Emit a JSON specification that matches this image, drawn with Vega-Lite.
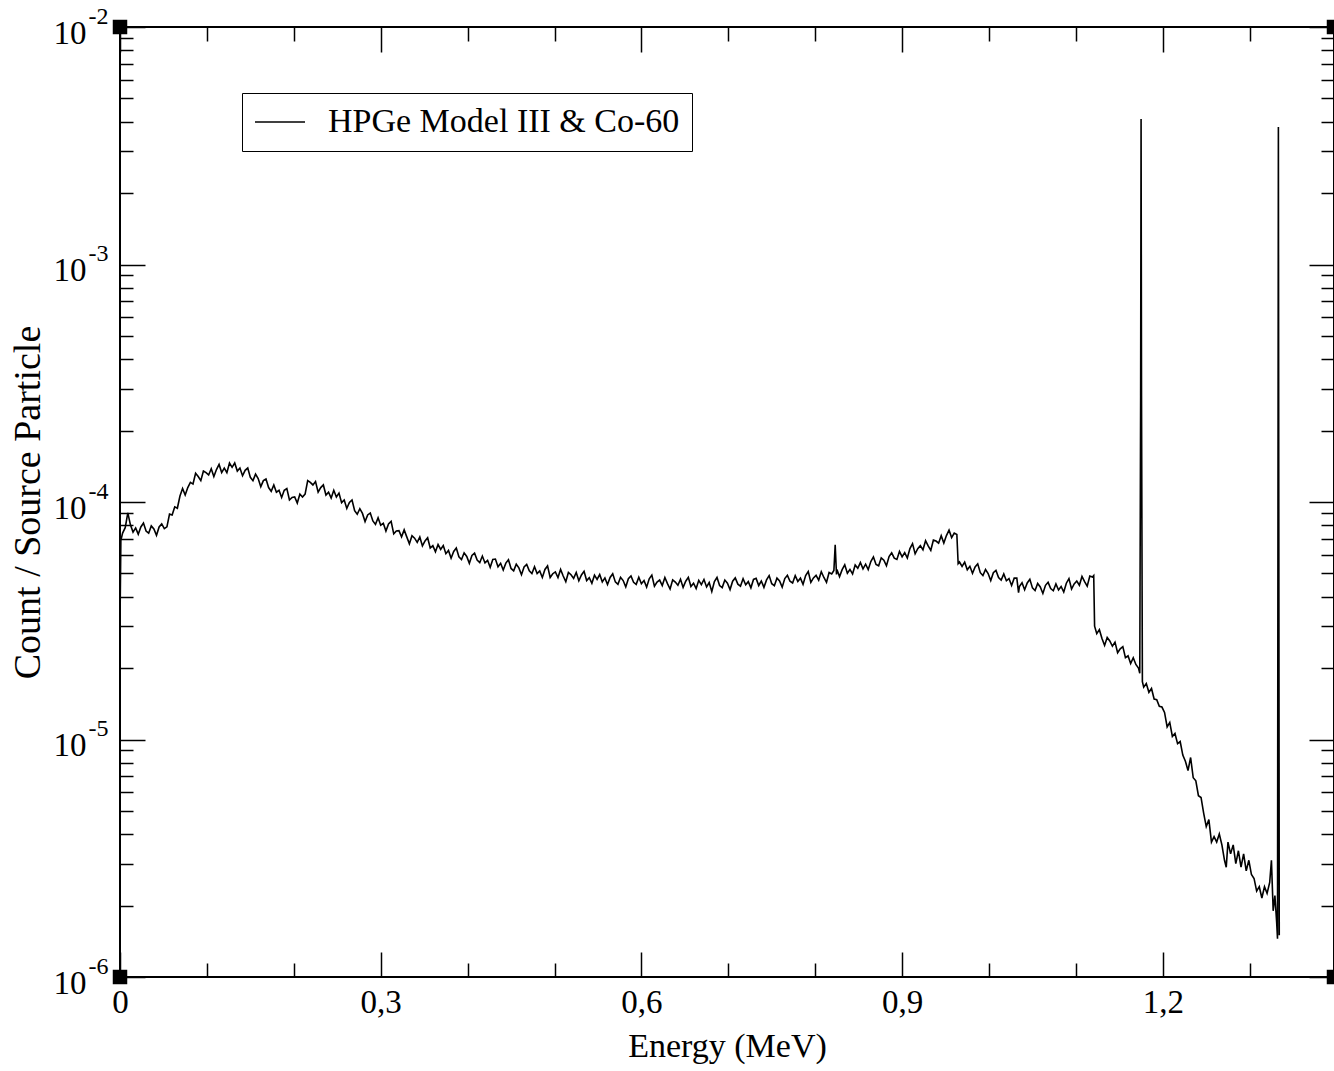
{
"$schema": "https://vega.github.io/schema/vega-lite/v6.json",
"width": 1214, "height": 950,
"autosize": {"type": "none"},
"padding": {"left": 120, "top": 27, "right": 0, "bottom": 94},
"background": "white",
"config": {
  "view": {"stroke": "#000", "strokeWidth": 2},
  "font": "Liberation Serif",
  "axis": {"grid": false, "domain": false, "labelColor": "#000", "titleColor": "#000", "tickColor": "#000", "labelFont": "Liberation Serif", "titleFont": "Liberation Serif", "titleFontWeight": "normal", "labelOverlap": false, "labelFlush": false, "labelBound": false}
},
"datasets": {
  "corners": [{"energy":0,"count":1e-2},{"energy":0,"count":1e-6},{"energy":1.397,"count":1e-2},{"energy":1.397,"count":1e-6}],
  "spec": [
{"energy":0,"count":3.1e-5},{"energy":0.001,"count":6.9e-5},{"energy":0.003,"count":7.4e-5},{"energy":0.006,"count":7.8e-5},{"energy":0.009,"count":9.0e-5},
{"energy":0.012,"count":8.01e-5},{"energy":0.015,"count":7.47e-5},{"energy":0.018,"count":7.78e-5},{"energy":0.021,"count":7.32e-5},{"energy":0.024,"count":7.85e-5},{"energy":0.027,"count":8.16e-5},{"energy":0.030,"count":7.55e-5},{"energy":0.033,"count":7.39e-5},{"energy":0.036,"count":7.93e-5},{"energy":0.039,"count":7.7e-5},{"energy":0.042,"count":7.24e-5},{"energy":0.045,"count":7.85e-5},{"energy":0.048,"count":8.09e-5},
{"energy":0.051,"count":7.72e-5},{"energy":0.054,"count":7.86e-5},{"energy":0.057,"count":8.89e-5},{"energy":0.060,"count":8.82e-5},{"energy":0.063,"count":9.54e-5},{"energy":0.066,"count":9.41e-5},{"energy":0.069,"count":1.06e-4},{"energy":0.072,"count":1.14e-4},{"energy":0.075,"count":1.07e-4},{"energy":0.078,"count":1.15e-4},{"energy":0.081,"count":1.21e-4},{"energy":0.084,"count":1.19e-4},{"energy":0.087,"count":1.32e-4},{"energy":0.090,"count":1.28e-4},{"energy":0.093,"count":1.23e-4},{"energy":0.096,"count":1.35e-4},{"energy":0.099,"count":1.33e-4},{"energy":0.102,"count":1.30e-4},{"energy":0.105,"count":1.38e-4},{"energy":0.108,"count":1.28e-4},{"energy":0.111,"count":1.37e-4},{"energy":0.114,"count":1.44e-4},{"energy":0.117,"count":1.33e-4},{"energy":0.120,"count":1.39e-4},{"energy":0.123,"count":1.33e-4},{"energy":0.126,"count":1.46e-4},{"energy":0.129,"count":1.40e-4},
{"energy":0.132,"count":1.46e-4},{"energy":0.135,"count":1.35e-4},{"energy":0.138,"count":1.39e-4},{"energy":0.141,"count":1.29e-4},{"energy":0.144,"count":1.36e-4},{"energy":0.147,"count":1.39e-4},{"energy":0.150,"count":1.27e-4},{"energy":0.153,"count":1.23e-4},{"energy":0.156,"count":1.31e-4},{"energy":0.159,"count":1.255e-4},{"energy":0.162,"count":1.16e-4},{"energy":0.165,"count":1.23e-4},{"energy":0.168,"count":1.25e-4},{"energy":0.171,"count":1.15e-4},{"energy":0.174,"count":1.11e-4},{"energy":0.177,"count":1.18e-4},{"energy":0.180,"count":1.10e-4},{"energy":0.183,"count":1.12e-4},{"energy":0.186,"count":1.045e-4},{"energy":0.189,"count":1.12e-4},{"energy":0.192,"count":1.14e-4},{"energy":0.195,"count":1.02e-4},{"energy":0.198,"count":1.045e-4},{"energy":0.201,"count":1.05e-4},{"energy":0.204,"count":9.9e-5},{"energy":0.207,"count":1.08e-4},{"energy":0.210,"count":1.05e-4},{"energy":0.213,"count":1.08e-4},{"energy":0.216,"count":1.23e-4},{"energy":0.219,"count":1.21e-4},{"energy":0.222,"count":1.18e-4},{"energy":0.225,"count":1.22e-4},{"energy":0.228,"count":1.10e-4},{"energy":0.231,"count":1.15e-4},{"energy":0.234,"count":1.18e-4},{"energy":0.237,"count":1.07e-4},{"energy":0.240,"count":1.10e-4},{"energy":0.243,"count":1.04e-4},{"energy":0.246,"count":1.12e-4},{"energy":0.249,"count":1.05e-4},
{"energy":0.252,"count":1.09e-4},{"energy":0.255,"count":9.94e-5},{"energy":0.258,"count":1.02e-4},{"energy":0.261,"count":9.4e-5},{"energy":0.264,"count":9.95e-5},{"energy":0.267,"count":1.02e-4},{"energy":0.270,"count":9.2e-5},{"energy":0.273,"count":8.88e-5},{"energy":0.276,"count":9.37e-5},{"energy":0.279,"count":8.95e-5},{"energy":0.282,"count":8.27e-5},{"energy":0.285,"count":8.82e-5},{"energy":0.288,"count":8.98e-5},{"energy":0.291,"count":8.32e-5},{"energy":0.294,"count":8.05e-5},{"energy":0.297,"count":8.58e-5},{"energy":0.300,"count":7.99e-5},{"energy":0.303,"count":8.13e-5},{"energy":0.306,"count":7.55e-5},{"energy":0.309,"count":8.09e-5},{"energy":0.312,"count":8.29e-5},{"energy":0.315,"count":7.34e-5},{"energy":0.318,"count":7.55e-5},{"energy":0.321,"count":7.57e-5},{"energy":0.324,"count":7.13e-5},{"energy":0.327,"count":7.63e-5},{"energy":0.330,"count":7.13e-5},{"energy":0.333,"count":6.67e-5},{"energy":0.336,"count":7.21e-5},{"energy":0.339,"count":7.04e-5},{"energy":0.342,"count":6.76e-5},{"energy":0.345,"count":7.12e-5},{"energy":0.348,"count":6.53e-5},{"energy":0.351,"count":6.86e-5},{"energy":0.354,"count":7.07e-5},{"energy":0.357,"count":6.4e-5},{"energy":0.360,"count":6.55e-5},{"energy":0.363,"count":6.17e-5},{"energy":0.366,"count":6.62e-5},{"energy":0.369,"count":6.31e-5},
{"energy":0.372,"count":6.56e-5},{"energy":0.375,"count":6.06e-5},{"energy":0.378,"count":6.25e-5},{"energy":0.381,"count":5.8e-5},{"energy":0.384,"count":6.19e-5},{"energy":0.387,"count":6.4e-5},{"energy":0.390,"count":5.88e-5},{"energy":0.393,"count":5.72e-5},{"energy":0.396,"count":6.11e-5},{"energy":0.399,"count":5.9e-5},{"energy":0.402,"count":5.52e-5},{"energy":0.405,"count":5.96e-5},{"energy":0.408,"count":6.09e-5},{"energy":0.411,"count":5.7e-5},{"energy":0.414,"count":5.56e-5},{"energy":0.417,"count":5.92e-5},{"energy":0.420,"count":5.54e-5},{"energy":0.423,"count":5.68e-5},{"energy":0.426,"count":5.31e-5},{"energy":0.429,"count":5.73e-5},{"energy":0.432,"count":5.75e-5},{"energy":0.435,"count":5.34e-5},{"energy":0.438,"count":5.52e-5},{"energy":0.441,"count":5.17e-5},{"energy":0.444,"count":5.53e-5},{"energy":0.447,"count":5.71e-5},{"energy":0.450,"count":5.25e-5},{"energy":0.453,"count":5.13e-5},{"energy":0.456,"count":5.47e-5},{"energy":0.459,"count":5.28e-5},{"energy":0.462,"count":4.94e-5},{"energy":0.465,"count":5.33e-5},{"energy":0.468,"count":5.46e-5},{"energy":0.471,"count":5.13e-5},{"energy":0.474,"count":5.0e-5},{"energy":0.477,"count":5.34e-5},{"energy":0.480,"count":5.0e-5},{"energy":0.483,"count":5.13e-5},{"energy":0.486,"count":4.81e-5},{"energy":0.489,"count":5.2e-5},
{"energy":0.492,"count":5.38e-5},{"energy":0.495,"count":4.81e-5},{"energy":0.498,"count":4.99e-5},{"energy":0.501,"count":5.08e-5},{"energy":0.504,"count":4.81e-5},{"energy":0.507,"count":5.2e-5},{"energy":0.510,"count":4.88e-5},{"energy":0.513,"count":4.62e-5},{"energy":0.516,"count":5.05e-5},{"energy":0.519,"count":4.94e-5},{"energy":0.522,"count":4.77e-5},{"energy":0.525,"count":5.05e-5},{"energy":0.528,"count":4.66e-5},{"energy":0.531,"count":4.93e-5},{"energy":0.534,"count":5.11e-5},{"energy":0.537,"count":4.67e-5},{"energy":0.540,"count":4.8e-5},{"energy":0.543,"count":4.55e-5},{"energy":0.546,"count":4.92e-5},{"energy":0.549,"count":4.72e-5},{"energy":0.552,"count":4.95e-5},{"energy":0.555,"count":4.61e-5},{"energy":0.558,"count":4.79e-5},{"energy":0.561,"count":4.49e-5},{"energy":0.564,"count":4.81e-5},{"energy":0.567,"count":4.99e-5},{"energy":0.570,"count":4.61e-5},{"energy":0.573,"count":4.5e-5},{"energy":0.576,"count":4.82e-5},{"energy":0.579,"count":4.67e-5},{"energy":0.582,"count":4.39e-5},{"energy":0.585,"count":4.75e-5},{"energy":0.588,"count":4.88e-5},{"energy":0.591,"count":4.59e-5},{"energy":0.594,"count":4.5e-5},{"energy":0.597,"count":4.82e-5},{"energy":0.600,"count":4.53e-5},{"energy":0.603,"count":4.67e-5},{"energy":0.606,"count":4.38e-5},{"energy":0.609,"count":4.75e-5},
{"energy":0.612,"count":4.92e-5},{"energy":0.615,"count":4.42e-5},{"energy":0.618,"count":4.6e-5},{"energy":0.621,"count":4.69e-5},{"energy":0.624,"count":4.45e-5},{"energy":0.627,"count":4.81e-5},{"energy":0.630,"count":4.53e-5},{"energy":0.633,"count":4.3e-5},{"energy":0.636,"count":4.7e-5},{"energy":0.639,"count":4.6e-5},{"energy":0.642,"count":4.46e-5},{"energy":0.645,"count":4.73e-5},{"energy":0.648,"count":4.37e-5},{"energy":0.651,"count":4.64e-5},{"energy":0.654,"count":4.82e-5},{"energy":0.657,"count":4.41e-5},{"energy":0.660,"count":4.55e-5},{"energy":0.663,"count":4.32e-5},{"energy":0.666,"count":4.68e-5},{"energy":0.669,"count":4.49e-5},{"energy":0.672,"count":4.72e-5},{"energy":0.675,"count":4.39e-5},{"energy":0.678,"count":4.58e-5},{"energy":0.681,"count":4.2e-5},{"energy":0.684,"count":4.62e-5},{"energy":0.687,"count":4.81e-5},{"energy":0.690,"count":4.45e-5},{"energy":0.693,"count":4.36e-5},{"energy":0.696,"count":4.69e-5},{"energy":0.699,"count":4.55e-5},{"energy":0.702,"count":4.28e-5},{"energy":0.705,"count":4.64e-5},{"energy":0.708,"count":4.79e-5},{"energy":0.711,"count":4.51e-5},{"energy":0.714,"count":4.42e-5},{"energy":0.717,"count":4.75e-5},{"energy":0.720,"count":4.48e-5},{"energy":0.723,"count":4.62e-5},{"energy":0.726,"count":4.35e-5},{"energy":0.729,"count":4.72e-5},
{"energy":0.732,"count":4.77e-5},{"energy":0.735,"count":4.45e-5},{"energy":0.738,"count":4.65e-5},{"energy":0.741,"count":4.37e-5},{"energy":0.744,"count":4.7e-5},{"energy":0.747,"count":4.9e-5},{"energy":0.750,"count":4.53e-5},{"energy":0.753,"count":4.44e-5},{"energy":0.756,"count":4.78e-5},{"energy":0.759,"count":4.65e-5},{"energy":0.762,"count":4.38e-5},{"energy":0.765,"count":4.76e-5},{"energy":0.768,"count":4.91e-5},{"energy":0.771,"count":4.64e-5},{"energy":0.774,"count":4.56e-5},{"energy":0.777,"count":4.9e-5},{"energy":0.780,"count":4.63e-5},{"energy":0.783,"count":4.78e-5},{"energy":0.786,"count":4.5e-5},{"energy":0.789,"count":4.9e-5},{"energy":0.792,"count":5.1e-5},{"energy":0.795,"count":4.59e-5},{"energy":0.798,"count":4.79e-5},{"energy":0.801,"count":4.91e-5},{"energy":0.804,"count":4.69e-5},{"energy":0.807,"count":5.09e-5},{"energy":0.810,"count":4.81e-5},{"energy":0.813,"count":4.59e-5},{"energy":0.816,"count":5.05e-5},{"energy":0.819,"count":4.98e-5},{"energy":0.8215,"count":5.15e-5},{"energy":0.823,"count":6.6e-5},{"energy":0.8245,"count":4.95e-5},
{"energy":0.825,"count":5.2e-5},{"energy":0.828,"count":4.85e-5},{"energy":0.831,"count":5.19e-5},{"energy":0.834,"count":5.44e-5},{"energy":0.837,"count":5.01e-5},{"energy":0.840,"count":5.2e-5},{"energy":0.843,"count":4.98e-5},{"energy":0.846,"count":5.43e-5},{"energy":0.849,"count":5.26e-5},{"energy":0.852,"count":5.56e-5},{"energy":0.855,"count":5.23e-5},{"energy":0.858,"count":5.47e-5},{"energy":0.861,"count":5.19e-5},{"energy":0.864,"count":5.61e-5},{"energy":0.867,"count":5.87e-5},{"energy":0.870,"count":5.46e-5},{"energy":0.873,"count":5.39e-5},{"energy":0.876,"count":5.82e-5},{"energy":0.879,"count":5.69e-5},{"energy":0.882,"count":5.39e-5},{"energy":0.885,"count":5.89e-5},{"energy":0.888,"count":6.11e-5},{"energy":0.891,"count":5.8e-5},{"energy":0.894,"count":5.73e-5},{"energy":0.897,"count":6.19e-5},{"energy":0.900,"count":5.88e-5},{"energy":0.903,"count":6.12e-5},{"energy":0.906,"count":5.81e-5},{"energy":0.909,"count":6.37e-5},{"energy":0.912,"count":6.68e-5},{"energy":0.915,"count":6.05e-5},{"energy":0.918,"count":6.36e-5},{"energy":0.921,"count":6.55e-5},{"energy":0.924,"count":6.29e-5},{"energy":0.927,"count":6.87e-5},{"energy":0.930,"count":6.53e-5},{"energy":0.933,"count":6.26e-5},{"energy":0.936,"count":6.92e-5},{"energy":0.939,"count":6.85e-5},{"energy":0.942,"count":6.71e-5},{"energy":0.945,"count":7.21e-5},{"energy":0.948,"count":6.72e-5},{"energy":0.951,"count":7.22e-5},{"energy":0.954,"count":7.61e-5},{"energy":0.957,"count":7.08e-5},{"energy":0.960,"count":7.4e-5},{"energy":0.963,"count":7.3e-5},{"energy":0.9645,"count":5.5e-5},
{"energy":0.966,"count":5.59e-5},{"energy":0.969,"count":5.35e-5},{"energy":0.972,"count":5.58e-5},{"energy":0.975,"count":5.18e-5},{"energy":0.978,"count":5.36e-5},{"energy":0.981,"count":5.01e-5},{"energy":0.984,"count":5.33e-5},{"energy":0.987,"count":5.49e-5},{"energy":0.990,"count":5.04e-5},{"energy":0.993,"count":4.9e-5},{"energy":0.996,"count":5.2e-5},{"energy":0.999,"count":5.0e-5},{"energy":1.002,"count":4.67e-5},{"energy":1.005,"count":5.04e-5},{"energy":1.008,"count":5.15e-5},{"energy":1.011,"count":4.81e-5},{"energy":1.014,"count":4.69e-5},{"energy":1.017,"count":4.98e-5},{"energy":1.020,"count":4.66e-5},{"energy":1.023,"count":4.76e-5},{"energy":1.026,"count":4.45e-5},{"energy":1.029,"count":4.78e-5},{"energy":1.032,"count":4.78e-5},{"energy":1.034,"count":4.15e-5},{"energy":1.035,"count":4.41e-5},{"energy":1.038,"count":4.57e-5},{"energy":1.041,"count":4.27e-5},{"energy":1.044,"count":4.56e-5},{"energy":1.047,"count":4.73e-5},{"energy":1.050,"count":4.35e-5},{"energy":1.053,"count":4.24e-5},{"energy":1.056,"count":4.54e-5},{"energy":1.059,"count":4.39e-5},{"energy":1.062,"count":4.12e-5},{"energy":1.065,"count":4.46e-5},{"energy":1.068,"count":4.59e-5},{"energy":1.071,"count":4.32e-5},{"energy":1.074,"count":4.23e-5},{"energy":1.077,"count":4.52e-5},{"energy":1.080,"count":4.26e-5},{"energy":1.083,"count":4.41e-5},{"energy":1.086,"count":4.18e-5},{"energy":1.089,"count":4.55e-5},{"energy":1.092,"count":4.76e-5},{"energy":1.095,"count":4.3e-5},{"energy":1.098,"count":4.52e-5},{"energy":1.101,"count":4.65e-5},{"energy":1.104,"count":4.46e-5},{"energy":1.107,"count":4.86e-5},{"energy":1.110,"count":4.62e-5},{"energy":1.113,"count":4.42e-5},{"energy":1.116,"count":4.88e-5},{"energy":1.119,"count":4.83e-5},{"energy":1.1205,"count":4.9e-5},
{"energy":1.1215,"count":3.0e-5},{"energy":1.124,"count":2.79e-5},{"energy":1.127,"count":2.9e-5},{"energy":1.130,"count":2.66e-5},{"energy":1.133,"count":2.49e-5},{"energy":1.136,"count":2.69e-5},{"energy":1.139,"count":2.6e-5},{"energy":1.142,"count":2.47e-5},{"energy":1.145,"count":2.57e-5},{"energy":1.148,"count":2.32e-5},{"energy":1.151,"count":2.41e-5},{"energy":1.154,"count":2.46e-5},{"energy":1.157,"count":2.21e-5},{"energy":1.160,"count":2.25e-5},{"energy":1.163,"count":2.09e-5},{"energy":1.166,"count":2.21e-5},{"energy":1.169,"count":2.07e-5},{"energy":1.172,"count":2.0e-5},{"energy":1.1735,"count":1.9e-5},{"energy":1.1745,"count":2.8e-4},{"energy":1.1750,"count":4.1e-3},{"energy":1.1755,"count":2.8e-4},{"energy":1.1765,"count":1.75e-5},
{"energy":1.178,"count":1.66e-5},{"energy":1.181,"count":1.72e-5},{"energy":1.184,"count":1.58e-5},{"energy":1.187,"count":1.64e-5},{"energy":1.190,"count":1.48e-5},{"energy":1.193,"count":1.47e-5},{"energy":1.196,"count":1.38e-5},{"energy":1.199,"count":1.37e-5},{"energy":1.202,"count":1.3e-5},{"energy":1.205,"count":1.13e-5},{"energy":1.208,"count":1.18e-5},{"energy":1.211,"count":1.03e-5},{"energy":1.214,"count":1.06e-5},{"energy":1.217,"count":9.6e-6},{"energy":1.220,"count":9.8e-6},{"energy":1.223,"count":8.6e-6},{"energy":1.226,"count":8.1e-6},{"energy":1.229,"count":7.4e-6},{"energy":1.232,"count":8.4e-6},{"energy":1.235,"count":6.9e-6},{"energy":1.238,"count":6.7e-6},{"energy":1.241,"count":5.8e-6},{"energy":1.244,"count":5.7e-6},{"energy":1.247,"count":4.9e-6},{"energy":1.250,"count":4.3e-6},{"energy":1.253,"count":4.6e-6},{"energy":1.256,"count":3.7e-6},{"energy":1.259,"count":3.9e-6},{"energy":1.262,"count":3.7e-6},{"energy":1.265,"count":4.0e-6},{"energy":1.268,"count":3.6e-6},{"energy":1.271,"count":3.1e-6},{"energy":1.273,"count":2.9e-6},{"energy":1.275,"count":3.7e-6},{"energy":1.278,"count":3.3e-6},{"energy":1.281,"count":3.6e-6},{"energy":1.284,"count":3.0e-6},{"energy":1.287,"count":3.4e-6},{"energy":1.290,"count":2.9e-6},{"energy":1.293,"count":3.3e-6},{"energy":1.296,"count":2.8e-6},{"energy":1.299,"count":3.1e-6},{"energy":1.302,"count":2.7e-6},{"energy":1.305,"count":2.6e-6},{"energy":1.308,"count":2.3e-6},{"energy":1.311,"count":2.4e-6},{"energy":1.314,"count":2.15e-6},{"energy":1.317,"count":2.4e-6},{"energy":1.320,"count":2.25e-6},{"energy":1.323,"count":2.5e-6},{"energy":1.325,"count":3.1e-6},{"energy":1.327,"count":1.9e-6},{"energy":1.329,"count":2.2e-6},{"energy":1.331,"count":1.7e-6},{"energy":1.332,"count":1.45e-6},{"energy":1.333,"count":3.79e-3},{"energy":1.334,"count":1.5e-6}
  ]
},
"resolve": {"axis": {"x": "independent", "y": "independent"}},
"layer": [
  {
    "data": {"name": "spec"},
    "mark": {"type": "line", "strokeWidth": 1.6, "interpolate": "linear"},
    "encoding": {
      "x": {"field": "energy", "type": "quantitative", "scale": {"domain": [0, 1.397], "nice": false, "zero": false},
        "axis": {"orient": "bottom", "values": [0, 0.3, 0.6, 0.9, 1.2], "ticks": false, "labelExpr": "datum.value == 0 ? '0' : replace(format(datum.value, '.1f'), '.', ',')", "labelFontSize": 33, "labelPadding": 9, "title": "Energy (MeV)", "titleFontSize": 34, "titlePadding": 10}},
      "y": {"field": "count", "type": "quantitative", "scale": {"type": "log", "domain": [1e-6, 1e-2], "nice": false},
        "axis": {"orient": "left", "values": [1e-6, 1e-5, 1e-4, 1e-3, 1e-2], "ticks": false, "labelExpr": "'10'", "labelFontSize": 33, "labelPadding": 34, "labelBaseline": "middle", "labelOffset": 6, "title": "Count / Source Particle", "titleFontSize": 38, "titlePadding": 6}},
      "color": {"datum": "HPGe Model III & Co-60", "type": "nominal", "scale": {"range": ["#000"]},
        "legend": {"title": null, "orient": "none", "legendX": 122, "legendY": 66, "symbolType": "M-5,0H5", "symbolSize": 100, "symbolOffset": 9, "symbolStrokeWidth": 1.5, "labelFontSize": 34, "labelFont": "Liberation Serif", "labelColor": "#000", "labelOffset": 31, "padding": 12, "strokeColor": "#000", "labelLimit": 0}}
    }
  },
  {
    "data": {"name": "corners"},
    "mark": {"type": "point", "shape": "square", "filled": true, "color": "#000", "size": 210, "opacity": 1},
    "encoding": {
      "x": {"field": "energy", "type": "quantitative", "scale": {"domain": [0, 1.397], "nice": false, "zero": false},
        "axis": {"orient": "bottom", "values": [0, 0.3, 0.6, 0.9, 1.2], "labels": false, "tickSize": -25, "tickWidth": 1.5, "title": null}},
      "y": {"field": "count", "type": "quantitative", "scale": {"type": "log", "domain": [1e-6, 1e-2], "nice": false},
        "axis": {"orient": "left", "values": [1e-6, 1e-5, 1e-4, 1e-3, 1e-2], "labels": false, "tickSize": -25, "tickWidth": 1.5, "title": null}}
    }
  },
  {
    "data": {"name": "corners"},
    "mark": {"type": "point", "opacity": 0},
    "encoding": {
      "x": {"field": "energy", "type": "quantitative", "scale": {"domain": [0, 1.397], "nice": false, "zero": false},
        "axis": {"orient": "bottom", "values": [0.1, 0.2, 0.4, 0.5, 0.7, 0.8, 1.0, 1.1, 1.3], "labels": false, "tickSize": -14, "tickWidth": 1.5, "title": null}},
      "y": {"field": "count", "type": "quantitative", "scale": {"type": "log", "domain": [1e-6, 1e-2], "nice": false},
        "axis": {"orient": "left", "values": [2e-6,3e-6,4e-6,5e-6,6e-6,7e-6,8e-6,9e-6,2e-5,3e-5,4e-5,5e-5,6e-5,7e-5,8e-5,9e-5,2e-4,3e-4,4e-4,5e-4,6e-4,7e-4,8e-4,9e-4,2e-3,3e-3,4e-3,5e-3,6e-3,7e-3,8e-3,9e-3], "labels": false, "tickSize": -13, "tickWidth": 1.5, "title": null}}
    }
  },
  {
    "data": {"name": "corners"},
    "mark": {"type": "point", "opacity": 0},
    "encoding": {
      "x": {"field": "energy", "type": "quantitative", "scale": {"domain": [0, 1.397], "nice": false, "zero": false},
        "axis": {"orient": "top", "values": [0, 0.3, 0.6, 0.9, 1.2], "labels": false, "tickSize": -25, "tickWidth": 1.5, "title": null}},
      "y": {"field": "count", "type": "quantitative", "scale": {"type": "log", "domain": [1e-6, 1e-2], "nice": false},
        "axis": {"orient": "right", "values": [1e-6, 1e-5, 1e-4, 1e-3, 1e-2], "labels": false, "tickSize": -25, "tickWidth": 1.5, "title": null}}
    }
  },
  {
    "data": {"name": "corners"},
    "mark": {"type": "point", "opacity": 0},
    "encoding": {
      "x": {"field": "energy", "type": "quantitative", "scale": {"domain": [0, 1.397], "nice": false, "zero": false},
        "axis": {"orient": "top", "values": [0.1, 0.2, 0.4, 0.5, 0.7, 0.8, 1.0, 1.1, 1.3], "labels": false, "tickSize": -14, "tickWidth": 1.5, "title": null}},
      "y": {"field": "count", "type": "quantitative", "scale": {"type": "log", "domain": [1e-6, 1e-2], "nice": false},
        "axis": {"orient": "right", "values": [2e-6,3e-6,4e-6,5e-6,6e-6,7e-6,8e-6,9e-6,2e-5,3e-5,4e-5,5e-5,6e-5,7e-5,8e-5,9e-5,2e-4,3e-4,4e-4,5e-4,6e-4,7e-4,8e-4,9e-4,2e-3,3e-3,4e-3,5e-3,6e-3,7e-3,8e-3,9e-3], "labels": false, "tickSize": -13, "tickWidth": 1.5, "title": null}}
    }
  },
  {
    "data": {"name": "corners"},
    "mark": {"type": "point", "opacity": 0},
    "encoding": {
      "x": {"field": "energy", "type": "quantitative", "scale": {"domain": [0, 1.397], "nice": false, "zero": false}, "axis": null},
      "y": {"field": "count", "type": "quantitative", "scale": {"type": "log", "domain": [1e-6, 1e-2], "nice": false},
        "axis": {"orient": "left", "values": [1e-6, 1e-5, 1e-4, 1e-3, 1e-2], "ticks": false, "labelExpr": "'-' + round(-log(datum.value)/LN10)", "labelFontSize": 24, "labelPadding": 12, "labelBaseline": "middle", "labelOffset": -11, "title": null}}
    }
  }
]
}
